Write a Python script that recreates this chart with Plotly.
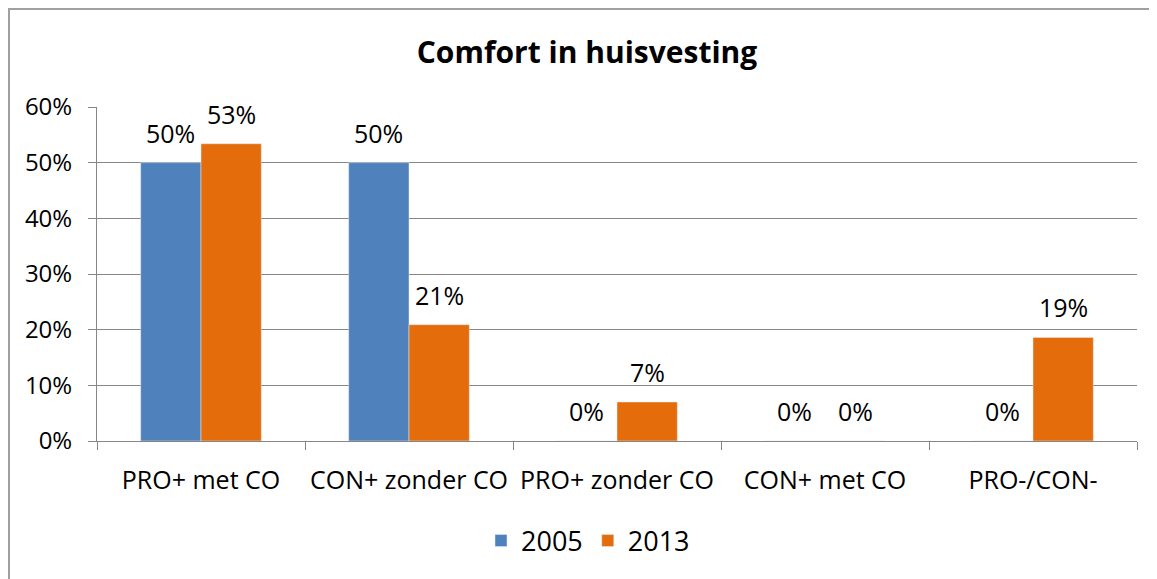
import plotly.graph_objects as go

categories = ["PRO+ met CO", "CON+ zonder CO", "PRO+ zonder CO", "CON+ met CO", "PRO-/CON-"]
values_2005 = [50.0, 50.0, 0.0, 0.0, 0.0]
values_2013 = [53.4, 20.9, 7.0, 0.0, 18.6]
y_ticks = [0, 10, 20, 30, 40, 50, 60]
y_tick_labels = ["0%", "10%", "20%", "30%", "40%", "50%", "60%"]

FONT = "Open Sans"
BLUE = "#4F81BD"
ORANGE = "#E46C0A"
GRID = "#868686"

# page body has an 8px margin; figure is offset by (8, 8)
OFF = 8
W, H = 1157 - OFF, 579 - OFF
ML, MR, MT, MB = 97 - OFF, 20, 107 - OFF, 138
PW, PH = W - ML - MR, H - MT - MB
BAR_PX = PW / len(categories) * (1 - 0.42) / 2

def lbl(v):
    return f"{int(v + 0.5)}%"

fig = go.Figure()
fig.add_trace(go.Bar(name="2005", x=categories, y=values_2005, marker_color=BLUE))
fig.add_trace(go.Bar(name="2013", x=categories, y=values_2013, marker_color=ORANGE))

annotations = []
for vals, sign in ((values_2005, -1), (values_2013, 1)):
    for c, v in zip(categories, vals):
        annotations.append(dict(x=c, y=v, xref="x", yref="y", text=lbl(v), showarrow=False,
                                xshift=sign * BAR_PX / 2, yshift=11, yanchor="bottom",
                                font=dict(family=FONT, size=25, color="black")))

def px2x(px):
    return (px - OFF - ML) / PW

def px2y(py):
    return (H - MB - (py - OFF)) / PH

shapes = [
    dict(type="line", xref="paper", yref="paper", x0=px2x(8.5), x1=px2x(1170), y0=px2y(9), y1=px2y(9),
         line=dict(color="#A0A0A0", width=2)),
    dict(type="line", xref="paper", yref="paper", x0=px2x(9), x1=px2x(9), y0=px2y(8), y1=px2y(600),
         line=dict(color="#A0A0A0", width=2)),
]

fig.update_layout(
    width=W, height=H,
    margin=dict(l=ML, r=MR, t=MT, b=MB, autoexpand=False),
    paper_bgcolor="white", plot_bgcolor="white",
    barmode="group", bargap=0.42, bargroupgap=0,
    title=dict(text="<b>Comfort in huisvesting</b>", x=(587 - OFF) / W, xanchor="center",
               y=1 - (52 - OFF) / H, yanchor="middle",
               font=dict(family=FONT, size=30, color="black")),
    font=dict(family=FONT, size=24, color="black"),
    showlegend=True,
    legend=dict(orientation="h", x=px2x(588), xanchor="center", y=px2y(541), yanchor="middle",
                font=dict(family=FONT, size=27, color="black"), itemwidth=30, traceorder="normal"),
    shapes=shapes,
    annotations=annotations,
    xaxis=dict(tickson="boundaries", ticks="outside", ticklen=8, tickcolor=GRID,
               showline=True, linecolor=GRID, linewidth=1, showgrid=False,
               tickfont=dict(family=FONT, size=25), ticklabelstandoff=17),
    yaxis=dict(range=[0, 60], tickvals=y_ticks, ticktext=y_tick_labels, ticks="outside", ticklen=8,
               tickcolor=GRID, showline=True, linecolor=GRID, linewidth=1,
               showgrid=True, gridcolor=GRID, gridwidth=1, zeroline=False,
               tickfont=dict(family=FONT, size=24), ticklabelstandoff=11),
)

fig.write_html("out.html")
